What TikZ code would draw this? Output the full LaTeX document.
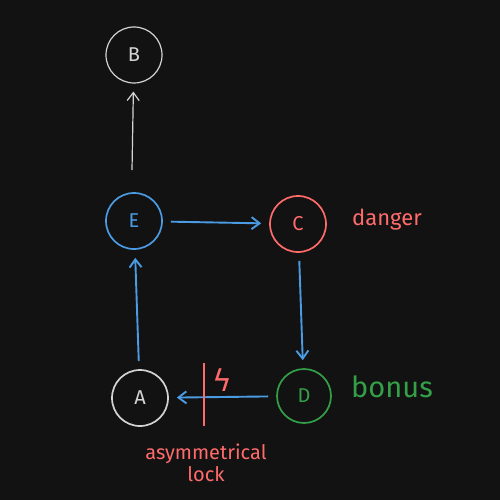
\documentclass[tikz,border=0pt]{standalone}
\usepackage{fontspec}
\setmainfont{Fira Sans}
\newfontfamily\symfont{DejaVu Sans}
\usetikzlibrary{arrows.meta}
\definecolor{bg}{HTML}{121212}
\definecolor{gr}{HTML}{D4D4D4}
\definecolor{bl}{HTML}{4A9BE3}
\definecolor{rd}{HTML}{FF6B6B}
\definecolor{gn}{HTML}{33A048}
\begin{document}
\begin{tikzpicture}[x=1pt,y=-1pt,
  nd/.style={circle,draw,line width=1.7pt,minimum size=56pt,inner sep=0pt,font=\fontsize{20}{20}\selectfont},
  lbl/.style={font=\fontsize{22}{24}\selectfont,inner sep=0pt},
  arr/.style={line width=1.9pt,shorten >=8pt,shorten <=8pt,-{Straight Barb[length=8pt,width=12pt]}}]
\fill[bg] (0,0) rectangle (500,500);
\useasboundingbox (0,0) rectangle (500,500);
\node[nd,draw=gr,text=gr,line width=1.2pt] (B) at (134,55) {B};
\node[nd,draw=bl,text=bl] (E) at (134,221) {E};
\node[nd,draw=rd,text=rd] (C) at (298,224) {C};
\node[nd,draw=gn,text=gn,minimum size=54pt] (D) at (304,396) {D};
\node[nd,draw=gr,text=gr,minimum height=52pt] (A) at (140,398) {A};
\node[lbl,text=rd] (dg) at (387,220) {danger};
\node[lbl,text=gn,font=\fontsize{29}{30}\selectfont] (bn) at (392,387) {bonus};
\node[lbl,text=rd,align=center,font=\fontsize{20}{22}\selectfont] (al) at (206,463) {asymmetrical\\lock};
\node[text=rd,inner sep=0pt,font=\symfont\fontsize{30}{30}\selectfont] (lt) at (222,380) {ϟ};
\coordinate (lk1) at (204,363);
\coordinate (lk2) at (204,426);
\draw[arr,draw=gr,line width=1.2pt,shorten <=0pt] (E) ++(-2,-51) coordinate (eb) (eb) -- (B);
\draw[arr,draw=bl] (E) -- (C);
\draw[arr,draw=bl] (C) -- (D);
\draw[arr,draw=bl] (D) -- (A);
\draw[arr,draw=bl] (A) -- (E);
\draw[rd,line width=2pt] (lk1) -- (lk2);
\end{tikzpicture}
\end{document}
